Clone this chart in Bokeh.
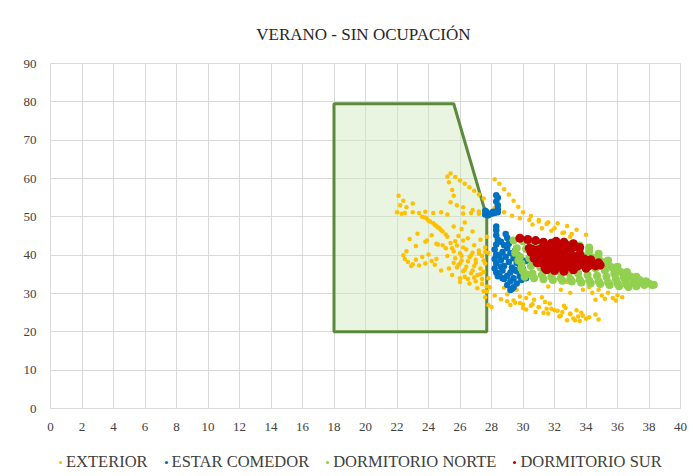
from bokeh.plotting import figure
from bokeh.models import FixedTicker, Legend, LegendItem, Range1d
from bokeh.layouts import column
from bokeh.embed import file_html
from bokeh.resources import INLINE

title_text = "VERANO  - SIN OCUPACIÓN"
x_ticks = list(range(0, 41, 2))
y_ticks = list(range(0, 91, 10))
series_names = ["EXTERIOR", "ESTAR COMEDOR", "DORMITORIO NORTE", "DORMITORIO SUR"]
series_colors = ["#FFC000", "#0070C0", "#92D050", "#C00000"]

# comfort zone polygon
zone_x = [18, 18, 25.6, 27.7, 27.7]
zone_y = [20, 79.5, 79.5, 50, 20]

# EXTERIOR
ext_x = [22.1, 22.4, 22.2, 22.6, 23.0, 22.0, 22.3,
         22.5, 23.0, 23.4, 23.8, 24.3, 24.8, 25.2, 26.2, 26.7, 27.2,
         23.6, 23.9, 24.1, 24.3, 24.5, 24.7, 24.9, 25.1, 25.2, 24.0, 24.4, 24.8, 23.8, 24.6,
         22.4, 22.5, 22.7, 23.0, 23.4, 23.8, 24.2, 24.4, 22.6, 23.2, 23.6, 24.0, 24.5, 22.9,
         25.4, 25.8, 26.2, 25.6, 26.0, 26.4, 26.8, 25.2, 25.7, 26.1, 26.6, 27.0, 27.4, 25.9,
         26.4, 26.9, 27.3, 27.6, 26.2, 26.7, 27.1, 27.5, 26.5, 27.0, 27.4, 27.7, 25.3, 24.8,
         25.5, 26.0, 27.8, 27.2, 26.9, 27.6, 27.3, 26.5, 25.9, 27.8, 27.7, 23.8, 24.6, 22.8,
         23.3, 24.2, 25.6, 26.3, 26.8, 26.1,
         25.6, 26.0, 26.5, 27.0, 27.5, 25.8, 26.3, 26.8, 27.3, 25.5, 26.1, 26.7, 27.2, 27.6,
         26.0, 26.6, 27.1, 27.5, 26.3, 26.9, 27.4, 25.7, 26.2, 24.9, 25.1, 24.5, 23.9, 23.2,
         25.4, 25.7, 26.0, 26.3, 26.6, 26.9, 27.2, 27.5, 25.3, 25.5, 25.6, 25.4, 25.8, 26.2,
         26.8, 27.2, 27.6, 25.2,
         28.2, 28.5, 28.8, 29.1, 29.4, 29.7, 30.0, 30.5, 31.0, 31.5, 32.0, 32.5, 33.0,
         28.2, 28.8, 29.3, 29.8, 30.4, 31.0, 31.6, 32.2, 32.8, 33.4, 34.0,
         30.6, 31.2, 31.8, 32.6, 33.1,
         28.2, 28.6, 29.0, 29.4, 29.8, 30.2, 30.6, 31.0, 31.4, 31.8, 32.2, 32.6, 33.0, 33.4,
         33.8, 34.2, 34.6, 33.2, 32.4, 31.6, 30.8, 30.0, 29.2, 34.8, 31.2, 30.4, 29.6, 28.8,
         32.8, 33.6,
         29.0, 29.5, 30.0, 30.5, 31.0, 31.5, 32.0, 32.5, 33.0, 33.5, 34.0, 29.8, 30.7, 31.7,
         32.7, 33.7, 30.2, 31.3, 32.3, 33.3,
         33.6, 34.2, 34.8, 35.4, 36.0, 36.3, 35.7, 35.0, 34.4, 33.8, 32.8, 32.0, 31.2, 30.4,
         31.6, 32.4, 33.0, 35.2, 35.9, 34.6,
         27.6, 27.8, 27.7, 28.0, 27.9]
ext_y = [55.5, 54.2, 53.0, 52.5, 53.5, 51.2, 50.8,
         51.0, 51.2, 51.0, 51.3, 51.0, 51.2, 50.6, 50.9, 51.0, 50.8,
         50.0, 49.5, 48.8, 48.3, 47.6, 47.0, 46.2, 45.4, 44.8, 49.0, 47.9, 46.5, 49.8, 47.2,
         40.0, 39.0, 38.2, 37.6, 37.3, 37.8, 38.5, 37.5, 41.0, 38.8, 39.5, 40.2, 39.0, 37.2,
         43.2, 42.5, 42.0, 41.0, 40.5, 41.5, 40.6, 39.8, 39.2, 38.6, 39.5, 38.8, 39.8, 37.5,
         37.0, 37.2, 36.5, 37.8, 35.8, 35.3, 34.8, 35.6, 33.8, 33.2, 32.5, 31.8, 36.5, 36.0,
         34.8, 34.0, 34.0, 41.2, 42.6, 42.0, 44.0, 44.4, 45.0, 40.6, 44.8, 43.5, 42.8, 44.2,
         45.6, 45.2, 47.5, 48.5, 46.2, 46.8,
         38.0, 37.8, 38.4, 38.0, 38.6, 36.8, 36.2, 36.0, 35.0, 41.8, 39.8, 40.0, 40.4, 40.8,
         33.0, 32.6, 31.4, 30.6, 34.4, 34.2, 33.8, 43.6, 43.8, 42.6, 41.8, 43.0, 43.8, 42.4,
         61.3, 60.4, 59.5, 58.6, 57.7, 56.8, 55.8, 54.8, 59.0, 57.0, 55.5, 53.8, 53.0, 52.5,
         51.8, 51.4, 51.2, 60.5,
         59.8, 58.6, 57.2, 55.8, 54.2, 52.6, 51.2, 50.2, 49.2, 48.1, 47.0, 45.8, 44.8,
         52.3, 51.2, 50.3, 49.6, 49.2, 48.8, 48.6, 48.3, 47.6, 46.6, 45.3,
         48.0, 47.0, 46.4, 45.9, 45.5,
         29.5, 28.5, 29.8, 28.2, 27.5, 28.8, 27.2, 26.5, 27.8, 26.0, 25.5, 26.8, 24.8, 25.6,
         24.2, 23.8, 24.5, 23.5, 24.2, 24.8, 25.2, 26.2, 27.0, 23.2, 29.0, 30.0, 31.0, 31.5,
         23.0, 22.8,
         28.0, 27.6, 27.2, 26.8, 26.4, 26.0, 25.6, 25.2, 24.6, 24.0, 23.4, 29.2, 28.4, 27.4,
         26.2, 25.0, 25.8, 25.0, 24.0, 23.0,
         32.5, 31.6, 31.0, 30.2, 29.6, 29.0, 28.8, 29.5, 30.2, 31.0, 33.0, 33.8, 34.5, 35.0,
         31.8, 31.0, 30.2, 28.6, 28.2, 28.4,
         29.0, 27.0, 30.5, 26.5, 31.6]

# ESTAR COMEDOR
est_x = [27.6, 27.6, 27.8, 28.0, 28.2, 28.4, 28.4, 28.4, 28.3, 28.4, 28.3, 27.7, 28.1,
         28.3, 28.3, 28.3, 28.4, 28.3, 28.2, 28.3, 28.2, 28.3, 28.2, 28.3, 28.4,
         28.6, 28.8, 29.0, 28.7, 29.2, 28.9, 29.4, 28.6, 29.1, 29.6, 28.8, 29.3, 29.8, 28.7,
         29.2, 29.6, 30.0, 29.0, 29.4, 29.8, 30.1, 29.2, 29.6, 29.4, 29.2, 29.9, 30.2, 29.0,
         29.1, 29.5, 28.9, 29.7, 30.2, 28.8, 29.5, 29.9, 28.5, 28.6, 28.5, 28.7, 29.0, 29.3]
est_y = [51.6, 50.6, 50.4, 50.8, 51.0, 51.2, 52.0, 53.0, 54.0, 55.0, 55.6, 51.2, 51.3,
         47.5, 46.5, 45.2, 44.0, 42.8, 41.5, 40.2, 39.0, 37.8, 36.5, 35.5, 34.5,
         43.5, 42.6, 41.8, 40.8, 40.5, 39.6, 39.2, 38.7, 38.2, 38.0, 37.2, 36.8, 37.5, 36.0,
         35.5, 35.8, 36.4, 34.6, 34.0, 34.5, 35.0, 33.2, 32.6, 31.6, 30.9, 33.5, 34.0, 44.5,
         43.0, 41.2, 45.5, 40.0, 38.5, 33.8, 36.2, 39.0, 40.0, 37.0, 35.2, 34.0, 32.2, 31.2]

# DORMITORIO NORTE
nor_x = [29.4, 30.0, 30.6, 31.2, 31.8, 32.4, 33.0, 33.6, 34.2, 34.8, 35.4, 36.0, 36.6,
         37.2, 37.8, 38.3,
         29.6, 30.2, 30.8, 31.4, 32.0, 32.6, 33.2, 33.8, 34.4, 35.0, 35.6, 36.2, 36.8, 37.4,
         38.0,
         29.8, 30.4, 31.0, 31.6, 32.2, 32.8, 33.4, 34.0, 34.6, 35.2, 35.8, 36.4, 37.0, 37.6,
         38.2,
         29.9, 30.5, 31.1, 31.7, 32.3, 32.9, 33.5, 34.1, 34.7, 35.3, 35.9, 36.5, 37.1, 37.7,
         30.0, 30.6, 31.2, 31.8, 32.4, 33.0, 33.6, 34.2, 34.8, 35.4, 36.0, 36.6, 37.2,
         30.1, 30.7, 31.3, 31.9, 32.5, 33.1, 33.7, 34.3, 34.9, 35.5, 36.1, 36.7,
         29.5, 29.7, 29.9, 30.2, 34.2, 34.8, 33.6, 35.3]
nor_y = [43.8, 43.6, 43.4, 43.2, 43.0, 42.9, 42.7, 42.5, 42.0, 40.4, 38.6, 37.0, 35.6,
         34.4, 33.2, 32.3,
         41.8, 41.6, 41.2, 40.8, 40.4, 40.2, 40.0, 39.8, 39.4, 38.2, 36.9, 35.6, 34.5, 33.5,
         32.6,
         39.6, 39.2, 38.8, 38.4, 38.0, 37.6, 37.4, 37.0, 36.6, 36.0, 35.2, 34.2, 33.4, 32.8,
         32.2,
         37.8, 37.2, 36.8, 36.2, 35.8, 35.4, 35.2, 34.8, 34.6, 34.4, 33.8, 33.2, 32.6, 32.2,
         35.8, 35.2, 34.8, 34.4, 34.0, 33.8, 33.6, 33.4, 33.2, 32.9, 32.6, 32.2, 31.9,
         34.4, 34.0, 33.7, 33.5, 33.3, 33.1, 32.9, 32.7, 32.5, 32.2, 31.9, 31.7,
         40.6, 38.6, 36.6, 35.0, 41.0, 39.2, 41.2, 37.6]

# DORMITORIO SUR
sur_x = [29.8, 30.3, 30.8, 31.3, 31.8, 32.3, 32.8, 33.3, 32.1, 32.6, 33.2,
         30.6, 31.0, 31.2, 31.6, 31.8, 32.2, 32.4, 32.8, 33.0, 33.2, 31.4, 31.9, 32.5, 33.2,
         33.6, 34.0, 34.4, 34.8, 34.9, 34.2, 33.5, 32.8, 32.2, 31.6, 31.2, 32.0, 32.6, 33.2,
         31.0, 32.0, 33.0, 34.0, 30.9, 31.6, 32.3,
         30.4, 30.9, 31.5, 32.0, 32.6, 33.0, 30.7, 31.3, 31.8, 32.3, 32.8, 33.4, 33.9, 34.3,
         34.6, 33.7, 32.6, 31.9, 31.4, 33.1, 34.0, 30.5, 31.9, 32.9, 33.6, 34.1, 32.2, 31.2,
         32.8, 33.6, 31.5, 34.5, 33.0]
sur_y = [44.4, 44.1, 43.8, 43.4, 43.1, 42.8, 42.5, 42.2, 43.6, 43.4, 43.0,
         41.5, 40.8, 41.8, 40.2, 41.2, 40.6, 39.6, 41.0, 40.0, 39.2, 39.2, 38.6, 38.3, 38.0,
         38.8, 38.2, 38.0, 38.0, 37.4, 37.3, 37.2, 37.0, 36.8, 37.5, 38.0, 36.0, 35.8, 36.2,
         39.0, 39.8, 39.0, 37.6, 38.0, 36.6, 37.8,
         41.8, 41.4, 41.6, 41.8, 41.6, 41.2, 39.2, 38.4, 39.6, 38.0, 38.6, 39.6, 39.0, 38.8,
         37.2, 37.8, 36.4, 37.1, 36.6, 36.9, 36.6, 40.8, 40.4, 39.6, 40.2, 37.7, 39.2, 40.0,
         41.8, 42.0, 36.2, 37.6, 40.6]

font = "Times New Roman"
tick_font = "serif"

p = figure(width=693, height=450, output_backend="svg", toolbar_location=None,
           x_range=Range1d(0, 40), y_range=Range1d(0, 90),
           min_border_left=50, min_border_right=13, min_border_top=63, min_border_bottom=42,
           title=title_text)
p.title.align = "center"
p.title.text_font = font
p.title.text_font_size = "17px"
p.title.text_font_style = "normal"
p.title.text_color = "#262626"
p.title.standoff = 40

p.xaxis.ticker = FixedTicker(ticks=x_ticks)
p.yaxis.ticker = FixedTicker(ticks=y_ticks)
p.axis.axis_line_color = None
p.axis.major_tick_line_color = None
p.axis.minor_tick_line_color = None
p.axis.major_tick_out = 0
p.axis.major_tick_in = 0
p.axis.minor_tick_out = 0
p.axis.minor_tick_in = 0
p.xaxis.major_label_text_font = tick_font
p.yaxis.major_label_text_font = tick_font
p.axis.major_label_text_font_size = "13px"
p.axis.major_label_text_color = "#404040"
p.xaxis.major_label_standoff = 14
p.yaxis.major_label_standoff = 14

p.xgrid.ticker = FixedTicker(ticks=x_ticks)
p.ygrid.ticker = FixedTicker(ticks=y_ticks)
p.grid.grid_line_color = "#D9D9D9"
p.grid.grid_line_width = 1
p.outline_line_color = "#D9D9D9"

p.patch(zone_x, zone_y, fill_color="#CFE6BC", fill_alpha=0.45,
        line_color="#5A8A3A", line_width=3)

p.scatter(ext_x, ext_y, size=4.5, color=series_colors[0], line_width=0)
p.scatter(est_x, est_y, size=6.5, color=series_colors[1], line_width=0)
p.scatter(nor_x, nor_y, size=8, color=series_colors[2], line_width=0)
p.scatter(sur_x, sur_y, size=9, color=series_colors[3], line_width=0)

# legend strip below the chart (frame aligned with the chart's frame)
lf = figure(width=693, height=26, output_backend="svg", toolbar_location=None,
            x_range=Range1d(0, 1), y_range=Range1d(0, 1),
            x_axis_location=None, y_axis_location=None, min_border=0)
lf.grid.visible = False
lf.outline_line_color = None
items = []
for name, col in zip(series_names, series_colors):
    r = lf.scatter(x=[-1], y=[-1], size=4, color=col, line_width=0)
    items.append(LegendItem(label=name, renderers=[r]))
legend = Legend(items=items, orientation="horizontal", location=(6, 4))
legend.border_line_color = None
legend.background_fill_alpha = 0
legend.label_text_font = font
legend.label_text_font_size = "16.5px"
legend.label_text_color = "#404040"
legend.glyph_width = 8
legend.glyph_height = 10
legend.label_standoff = 2
legend.spacing = 14
legend.padding = 0
legend.margin = 0
lf.add_layout(legend)

layout = column(p, lf, spacing=0)
open("out.html", "w").write(file_html(layout, INLINE))
